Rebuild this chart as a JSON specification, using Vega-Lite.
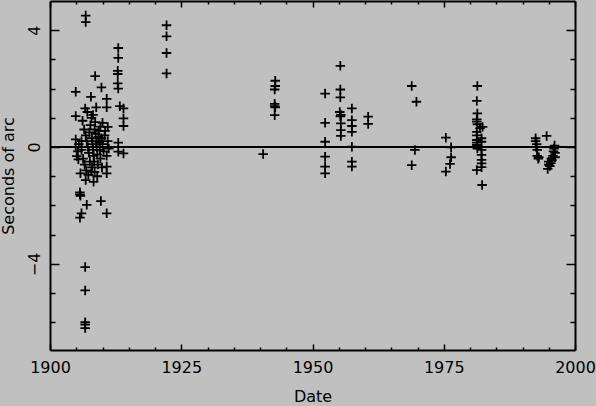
{
  "$schema": "https://vega.github.io/schema/vega-lite/v6.json",
  "width": 525,
  "height": 349,
  "autosize": {"type": "none"},
  "padding": {"left": 50, "top": 1, "right": 21, "bottom": 56},
  "background": "#c0c0c0",
  "config": {"view": {"stroke": null}, "font": "DejaVu Sans"},
  "layer": [
    {
      "data": {"values": [
        {"year": 1906.8, "arcsec": 4.5}, {"year": 1906.8, "arcsec": 4.28},
        {"year": 1913.0, "arcsec": 3.39}, {"year": 1913.0, "arcsec": 3.05},
        {"year": 1912.9, "arcsec": 2.61}, {"year": 1912.9, "arcsec": 2.5},
        {"year": 1912.9, "arcsec": 2.18}, {"year": 1913.0, "arcsec": 2.0},
        {"year": 1908.6, "arcsec": 2.43}, {"year": 1904.9, "arcsec": 1.89},
        {"year": 1909.8, "arcsec": 2.04}, {"year": 1907.8, "arcsec": 1.72},
        {"year": 1910.8, "arcsec": 1.65}, {"year": 1906.7, "arcsec": 1.32},
        {"year": 1908.8, "arcsec": 1.36}, {"year": 1910.8, "arcsec": 1.36},
        {"year": 1913.3, "arcsec": 1.4}, {"year": 1914.0, "arcsec": 1.32},
        {"year": 1904.9, "arcsec": 1.06}, {"year": 1914.0, "arcsec": 0.98},
        {"year": 1914.0, "arcsec": 0.72}, {"year": 1910.0, "arcsec": 0.83},
        {"year": 1911.0, "arcsec": 0.69}, {"year": 1913.0, "arcsec": 0.15},
        {"year": 1913.0, "arcsec": -0.16}, {"year": 1914.0, "arcsec": -0.22},
        {"year": 1904.9, "arcsec": 0.26}, {"year": 1904.9, "arcsec": 0.0},
        {"year": 1905.1, "arcsec": -0.31}, {"year": 1905.4, "arcsec": -0.42},
        {"year": 1905.8, "arcsec": -0.9}, {"year": 1907.9, "arcsec": -0.84},
        {"year": 1910.8, "arcsec": -0.67}, {"year": 1910.8, "arcsec": -0.9},
        {"year": 1906.8, "arcsec": -1.13}, {"year": 1905.7, "arcsec": -1.55},
        {"year": 1905.7, "arcsec": -1.62}, {"year": 1905.8, "arcsec": -1.67},
        {"year": 1907.0, "arcsec": -1.98}, {"year": 1909.7, "arcsec": -1.85},
        {"year": 1910.8, "arcsec": -2.27}, {"year": 1906.0, "arcsec": -2.27},
        {"year": 1905.7, "arcsec": -2.42}, {"year": 1906.7, "arcsec": -4.11},
        {"year": 1906.7, "arcsec": -4.91}, {"year": 1906.7, "arcsec": -6.0},
        {"year": 1906.7, "arcsec": -6.08}, {"year": 1906.7, "arcsec": -6.2},
        {"year": 1906.2, "arcsec": 0.9}, {"year": 1906.5, "arcsec": 0.6},
        {"year": 1906.8, "arcsec": 0.4}, {"year": 1907.0, "arcsec": 0.2},
        {"year": 1907.2, "arcsec": 0.0}, {"year": 1907.4, "arcsec": -0.2},
        {"year": 1907.5, "arcsec": 0.5}, {"year": 1907.7, "arcsec": 0.75},
        {"year": 1907.9, "arcsec": 1.0}, {"year": 1908.0, "arcsec": 0.3},
        {"year": 1908.1, "arcsec": 0.1}, {"year": 1908.2, "arcsec": -0.1},
        {"year": 1908.3, "arcsec": -0.3}, {"year": 1908.4, "arcsec": -0.5},
        {"year": 1908.5, "arcsec": 0.6}, {"year": 1908.6, "arcsec": 0.85},
        {"year": 1908.7, "arcsec": 0.45}, {"year": 1908.8, "arcsec": 0.2},
        {"year": 1908.9, "arcsec": 0.0}, {"year": 1909.0, "arcsec": -0.25},
        {"year": 1909.1, "arcsec": -0.6}, {"year": 1909.2, "arcsec": 0.35},
        {"year": 1909.3, "arcsec": 0.55}, {"year": 1909.4, "arcsec": 0.15},
        {"year": 1909.5, "arcsec": -0.1}, {"year": 1909.6, "arcsec": -0.4},
        {"year": 1909.8, "arcsec": 0.3}, {"year": 1910.0, "arcsec": 0.1},
        {"year": 1910.2, "arcsec": -0.15}, {"year": 1910.4, "arcsec": 0.4},
        {"year": 1906.0, "arcsec": -0.1}, {"year": 1906.3, "arcsec": -0.4},
        {"year": 1906.6, "arcsec": -0.6}, {"year": 1906.9, "arcsec": -0.8},
        {"year": 1907.3, "arcsec": -0.95}, {"year": 1907.6, "arcsec": -0.5},
        {"year": 1908.0, "arcsec": -0.7}, {"year": 1908.5, "arcsec": -0.85},
        {"year": 1909.0, "arcsec": -1.0}, {"year": 1908.3, "arcsec": -1.19},
        {"year": 1905.5, "arcsec": 0.1}, {"year": 1905.3, "arcsec": -0.15},
        {"year": 1906.0, "arcsec": 0.2}, {"year": 1907.1, "arcsec": 1.2},
        {"year": 1908.2, "arcsec": 1.1}, {"year": 1909.6, "arcsec": 0.7},
        {"year": 1910.5, "arcsec": 0.55}, {"year": 1911.0, "arcsec": 0.2},
        {"year": 1911.2, "arcsec": -0.05}, {"year": 1910.8, "arcsec": -0.3},
        {"year": 1909.9, "arcsec": -0.7},
        {"year": 1922.2, "arcsec": 4.17}, {"year": 1922.2, "arcsec": 3.79},
        {"year": 1922.2, "arcsec": 3.22}, {"year": 1922.2, "arcsec": 2.52},
        {"year": 1940.6, "arcsec": -0.24},
        {"year": 1942.9, "arcsec": 2.27}, {"year": 1942.9, "arcsec": 2.09},
        {"year": 1942.8, "arcsec": 1.97}, {"year": 1942.8, "arcsec": 1.48},
        {"year": 1942.8, "arcsec": 1.4}, {"year": 1942.9, "arcsec": 1.36},
        {"year": 1942.8, "arcsec": 1.09},
        {"year": 1952.4, "arcsec": 1.83}, {"year": 1952.4, "arcsec": 0.83},
        {"year": 1952.4, "arcsec": 0.18}, {"year": 1952.4, "arcsec": -0.33},
        {"year": 1952.4, "arcsec": -0.67}, {"year": 1952.4, "arcsec": -0.9},
        {"year": 1955.3, "arcsec": 2.78}, {"year": 1955.3, "arcsec": 1.97},
        {"year": 1955.3, "arcsec": 1.7}, {"year": 1955.2, "arcsec": 1.2},
        {"year": 1955.4, "arcsec": 1.1}, {"year": 1955.3, "arcsec": 1.05},
        {"year": 1955.4, "arcsec": 0.81}, {"year": 1955.4, "arcsec": 0.58},
        {"year": 1955.4, "arcsec": 0.38},
        {"year": 1957.5, "arcsec": 1.32}, {"year": 1957.5, "arcsec": 0.92},
        {"year": 1957.5, "arcsec": 0.72}, {"year": 1957.5, "arcsec": 0.52},
        {"year": 1957.5, "arcsec": 0.01}, {"year": 1957.5, "arcsec": -0.5},
        {"year": 1957.5, "arcsec": -0.67},
        {"year": 1960.6, "arcsec": 1.04}, {"year": 1960.6, "arcsec": 0.79},
        {"year": 1968.9, "arcsec": 2.09}, {"year": 1969.8, "arcsec": 1.55},
        {"year": 1969.5, "arcsec": -0.1}, {"year": 1968.9, "arcsec": -0.62},
        {"year": 1975.4, "arcsec": 0.32}, {"year": 1976.4, "arcsec": -0.01},
        {"year": 1976.4, "arcsec": -0.35}, {"year": 1976.2, "arcsec": -0.58},
        {"year": 1975.4, "arcsec": -0.84},
        {"year": 1981.4, "arcsec": 2.09}, {"year": 1981.3, "arcsec": 1.58},
        {"year": 1981.4, "arcsec": 1.15}, {"year": 1981.3, "arcsec": 0.95},
        {"year": 1981.3, "arcsec": 0.87}, {"year": 1981.4, "arcsec": 0.78},
        {"year": 1981.3, "arcsec": 0.52}, {"year": 1981.3, "arcsec": 0.4},
        {"year": 1981.3, "arcsec": 0.24}, {"year": 1981.3, "arcsec": 0.15},
        {"year": 1981.3, "arcsec": 0.07}, {"year": 1981.4, "arcsec": -0.05},
        {"year": 1981.3, "arcsec": -0.79}, {"year": 1981.9, "arcsec": 0.64},
        {"year": 1982.4, "arcsec": 0.69}, {"year": 1982.2, "arcsec": 0.3},
        {"year": 1982.2, "arcsec": 0.18}, {"year": 1982.2, "arcsec": -0.1},
        {"year": 1982.2, "arcsec": -0.27}, {"year": 1982.2, "arcsec": -0.44},
        {"year": 1982.2, "arcsec": -0.56}, {"year": 1982.2, "arcsec": -0.69},
        {"year": 1982.3, "arcsec": -1.3},
        {"year": 1992.5, "arcsec": 0.3}, {"year": 1992.5, "arcsec": 0.2},
        {"year": 1992.7, "arcsec": 0.1}, {"year": 1992.6, "arcsec": 0.0},
        {"year": 1992.8, "arcsec": -0.1}, {"year": 1992.8, "arcsec": -0.3},
        {"year": 1993.0, "arcsec": -0.4}, {"year": 1993.1, "arcsec": -0.35},
        {"year": 1994.6, "arcsec": 0.38},
        {"year": 1995.0, "arcsec": -0.5}, {"year": 1995.0, "arcsec": -0.6},
        {"year": 1995.2, "arcsec": -0.65}, {"year": 1995.4, "arcsec": -0.55},
        {"year": 1995.5, "arcsec": -0.4}, {"year": 1995.8, "arcsec": -0.3},
        {"year": 1995.9, "arcsec": -0.15}, {"year": 1996.0, "arcsec": -0.05},
        {"year": 1996.1, "arcsec": 0.05}, {"year": 1996.2, "arcsec": -0.2},
        {"year": 1996.2, "arcsec": -0.35}, {"year": 1995.6, "arcsec": -0.45},
        {"year": 1994.8, "arcsec": -0.75}
      ]},
      "mark": {"type": "point", "shape": "M-1,0H1M0,-1V1", "size": 90, "stroke": "black", "strokeWidth": 1.8, "filled": false, "opacity": 1},
      "encoding": {
        "x": {
          "field": "year", "type": "quantitative",
          "scale": {"domain": [1900, 2000], "nice": false, "zero": false},
          "axis": {
            "orient": "bottom", "values": [1900,1905,1910,1915,1920,1925,1930,1935,1940,1945,1950,1955,1960,1965,1970,1975,1980,1985,1990,1995,2000],
            "format": "d", "labelExpr": "datum.value % 25 === 0 ? datum.label : ''",
            "labelOverlap": false, "labelFlush": false,
            "tickSize": {"condition": {"test": "datum.value % 25 === 0", "value": -6}, "value": -3},
            "tickColor": "black", "tickWidth": 1.5,
            "domainColor": "black", "domainWidth": 2, "grid": false,
            "labelFont": "DejaVu Sans", "labelFontSize": 16, "labelColor": "black", "labelPadding": 15,
            "labelBaseline": "top",
            "title": "Date", "titleFont": "DejaVu Sans", "titleFontSize": 16, "titleFontWeight": "normal", "titleColor": "black",
            "titleBaseline": "alphabetic", "titleY": 51
          }
        },
        "y": {
          "field": "arcsec", "type": "quantitative",
          "scale": {"domain": [-6.95, 5], "nice": false, "zero": false},
          "axis": {
            "orient": "left", "values": [-6,-5,-4,-3,-2,-1,0,1,2,3,4],
            "labelExpr": "datum.value % 4 === 0 ? datum.label : ''",
            "labelOverlap": false, "labelFlush": false,
            "tickSize": {"condition": {"test": "datum.value % 4 === 0", "value": -9}, "value": -5},
            "tickColor": "black", "tickWidth": 1.5,
            "domainColor": "black", "domainWidth": 2, "grid": false,
            "labelFont": "DejaVu Sans", "labelFontSize": 16, "labelColor": "black", "labelPadding": 19.5,
            "labelAngle": 270, "labelAlign": "center", "labelBaseline": "alphabetic",
            "title": "Seconds of arc", "titleFont": "DejaVu Sans", "titleFontSize": 16, "titleFontWeight": "normal", "titleColor": "black",
            "titleAngle": 270, "titleBaseline": "alphabetic", "titleX": -36.5, "titleAlign": "center"
          }
        }
      }
    },
    {
      "data": {"values": [{}]},
      "mark": {"type": "rule", "stroke": "black", "strokeWidth": 2},
      "encoding": {
        "y": {
          "datum": 0, "type": "quantitative",
          "axis": {
            "orient": "right", "values": [-6,-5,-4,-3,-2,-1,0,1,2,3,4], "labels": false, "title": null,
            "tickSize": {"condition": {"test": "datum.value % 4 === 0", "value": -9}, "value": -5},
            "tickColor": "black", "tickWidth": 1.5,
            "domainColor": "black", "domainWidth": 2, "grid": false
          }
        },
        "x": {
          "datum": 1900, "type": "quantitative",
          "axis": {
            "orient": "top", "values": [1900,1905,1910,1915,1920,1925,1930,1935,1940,1945,1950,1955,1960,1965,1970,1975,1980,1985,1990,1995,2000],
            "labels": false, "title": null,
            "tickSize": {"condition": {"test": "datum.value % 25 === 0", "value": -6}, "value": -3},
            "tickColor": "black", "tickWidth": 1.5,
            "domainColor": "black", "domainWidth": 2, "grid": false
          }
        },
        "x2": {"datum": 2000}
      }
    }
  ],
  "resolve": {"axis": {"x": "independent", "y": "independent"}}
}
